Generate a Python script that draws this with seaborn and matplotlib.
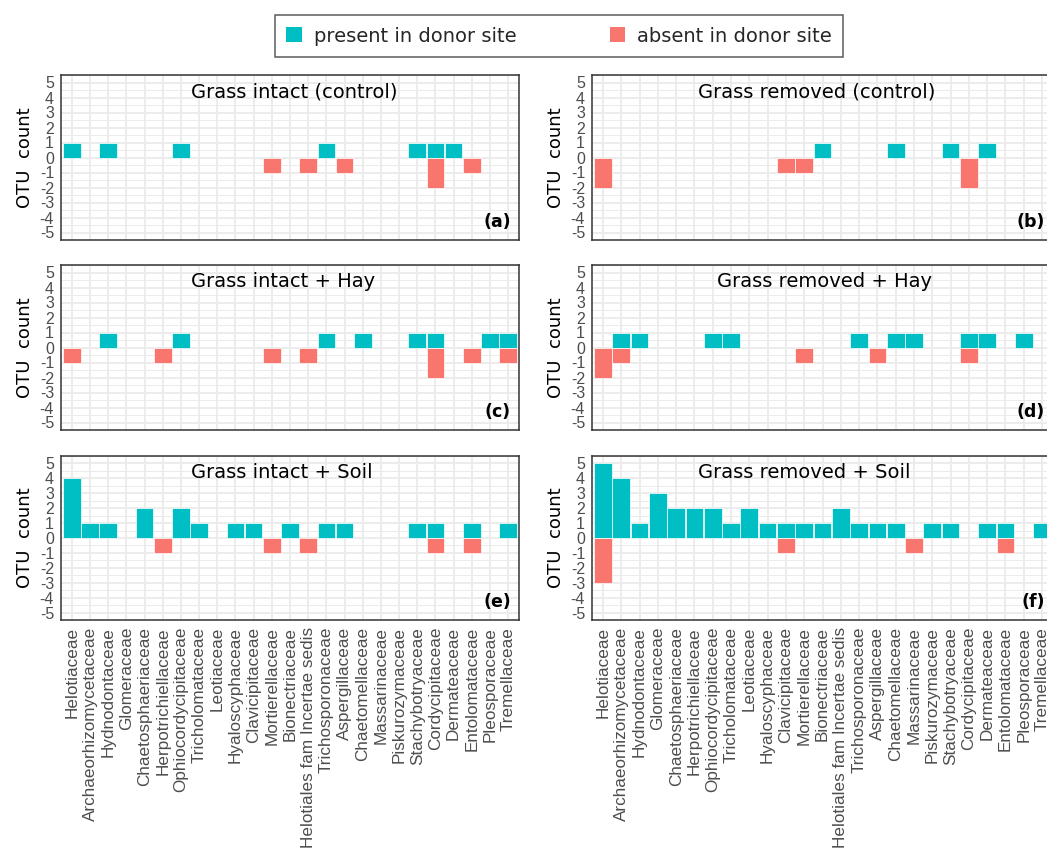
import matplotlib
matplotlib.use("Agg")
import matplotlib.pyplot as plt
from matplotlib.patches import Patch
from matplotlib.ticker import MultipleLocator
import pandas as pd
import seaborn as sns

# Fungal families on the shared x axis
families = [
    "Helotiaceae", "Archaeorhizomycetaceae", "Hydnodontaceae", "Glomeraceae",
    "Chaetosphaeriaceae", "Herpotrichiellaceae", "Ophiocordycipitaceae",
    "Tricholomataceae", "Leotiaceae", "Hyaloscyphaceae", "Clavicipitaceae",
    "Mortierellaceae", "Bionectriaceae", "Helotiales fam Incertae sedis",
    "Trichosporonaceae", "Aspergillaceae", "Chaetomellaceae", "Massarinaceae",
    "Piskurozymaceae", "Stachybotryaceae", "Cordycipitaceae", "Dermateaceae",
    "Entolomataceae", "Pleosporaceae", "Tremellaceae",
]

panel_titles = [
    "Grass intact (control)", "Grass removed (control)",
    "Grass intact + Hay", "Grass removed + Hay",
    "Grass intact + Soil", "Grass removed + Soil",
]
panel_tags = ["(a)", "(b)", "(c)", "(d)", "(e)", "(f)"]

# OTU counts per family: present in donor site (positive) / absent (negative)
intact_control_present = [1, 0, 1, 0, 0, 0, 1, 0, 0, 0, 0, 0, 0, 0, 1, 0, 0, 0, 0, 1, 1, 1, 0, 0, 0]
intact_control_absent = [0, 0, 0, 0, 0, 0, 0, 0, 0, 0, 0, -1, 0, -1, 0, -1, 0, 0, 0, 0, -2, 0, -1, 0, 0]
removed_control_present = [0, 0, 0, 0, 0, 0, 0, 0, 0, 0, 0, 0, 1, 0, 0, 0, 1, 0, 0, 1, 0, 1, 0, 0, 0]
removed_control_absent = [-2, 0, 0, 0, 0, 0, 0, 0, 0, 0, -1, -1, 0, 0, 0, 0, 0, 0, 0, 0, -2, 0, 0, 0, 0]
intact_hay_present = [0, 0, 1, 0, 0, 0, 1, 0, 0, 0, 0, 0, 0, 0, 1, 0, 1, 0, 0, 1, 1, 0, 0, 1, 1]
intact_hay_absent = [-1, 0, 0, 0, 0, -1, 0, 0, 0, 0, 0, -1, 0, -1, 0, 0, 0, 0, 0, 0, -2, 0, -1, 0, -1]
removed_hay_present = [0, 1, 1, 0, 0, 0, 1, 1, 0, 0, 0, 0, 0, 0, 1, 0, 1, 1, 0, 0, 1, 1, 0, 1, 0]
removed_hay_absent = [-2, -1, 0, 0, 0, 0, 0, 0, 0, 0, 0, -1, 0, 0, 0, -1, 0, 0, 0, 0, -1, 0, 0, 0, 0]
intact_soil_present = [4, 1, 1, 0, 2, 0, 2, 1, 0, 1, 1, 0, 1, 0, 1, 1, 0, 0, 0, 1, 1, 0, 1, 0, 1]
intact_soil_absent = [0, 0, 0, 0, 0, -1, 0, 0, 0, 0, 0, -1, 0, -1, 0, 0, 0, 0, 0, 0, -1, 0, -1, 0, 0]
removed_soil_present = [5, 4, 1, 3, 2, 2, 2, 1, 2, 1, 1, 1, 1, 2, 1, 1, 1, 0, 1, 1, 0, 1, 1, 0, 1]
removed_soil_absent = [-3, 0, 0, 0, 0, 0, 0, 0, 0, 0, -1, 0, 0, 0, 0, 0, 0, -1, 0, 0, 0, 0, -1, 0, 0]

panel_data = [
    (intact_control_present, intact_control_absent),
    (removed_control_present, removed_control_absent),
    (intact_hay_present, intact_hay_absent),
    (removed_hay_present, removed_hay_absent),
    (intact_soil_present, intact_soil_absent),
    (removed_soil_present, removed_soil_absent),
]

PRESENT = "#00BFC4"
ABSENT = "#F8766D"
GRID = "#EBEBEB"
FRAME = "#333333"
TICKTEXT = "#4D4D4D"

sns.set_style("white")
plt.rcParams["font.family"] = ["DejaVu Sans"]
plt.rcParams["axes.unicode_minus"] = False

W, H = 1047, 851
fig = plt.figure(figsize=(W / 100, H / 100), dpi=100)

col_px = [(61, 519), (592, 1053)]
row_px = [(75, 240), (265, 430), (456, 620)]
title_x = [0.284, 0.230, 0.284, 0.271, 0.284, 0.230]

for i, ((present, absent), title, tag) in enumerate(zip(panel_data, panel_titles, panel_tags)):
    r, c = divmod(i, 2)
    x0, x1 = col_px[c]
    y0, y1 = row_px[r]
    ax = fig.add_axes([x0 / W, 1 - y1 / H, (x1 - x0) / W, (y1 - y0) / H])

    df = pd.DataFrame({
        "family": families * 2,
        "count": list(present) + list(absent),
        "status": ["present"] * len(families) + ["absent"] * len(families),
    })
    df = df[df["count"] != 0]

    sns.barplot(
        data=df, x="family", y="count", hue="status",
        order=families, hue_order=["present", "absent"],
        palette={"present": PRESENT, "absent": ABSENT}, saturation=1,
        dodge=False, width=0.97, edgecolor="white", linewidth=0.5,
        errorbar=None, legend=False, ax=ax,
    )

    ax.set_xlim(-0.6, len(families) - 0.4)
    ax.set_ylim(-5.5, 5.5)
    ax.set_yticks(range(-5, 6))
    ax.set_yticklabels([str(v) for v in range(-5, 6)])
    ax.yaxis.set_minor_locator(MultipleLocator(0.5))

    ax.set_axisbelow(True)
    ax.xaxis.grid(True, which="major", color=GRID, linewidth=1.3)
    ax.yaxis.grid(True, which="major", color=GRID, linewidth=1.3)
    ax.yaxis.grid(True, which="minor", color=GRID, linewidth=0.7)
    for s in ax.spines.values():
        s.set_color(FRAME)
        s.set_linewidth(1.1)
        s.set_visible(True)

    ax.tick_params(axis="both", which="major", direction="out", length=3.5,
                   width=1.1, color=FRAME, labelcolor=TICKTEXT, pad=1.5)
    ax.tick_params(axis="y", which="minor", length=0)
    ax.tick_params(axis="y", labelsize=11.5)
    for lab in ax.get_yticklabels():
        lab.set_fontfamily("Liberation Sans")

    ax.set_xlabel("")
    if r == 2:
        ax.set_xticks(range(len(families)))
        ax.set_xticklabels(families, rotation=90, fontsize=12.3,
                           fontfamily="Liberation Sans", color=TICKTEXT)
    else:
        ax.tick_params(axis="x", labelbottom=False)

    ax.set_ylabel("OTU  count", fontsize=13, color="black")
    ax.yaxis.set_label_coords(-0.058, 0.5)

    ax.text(title_x[i], 4.4, title, transform=ax.get_yaxis_transform(),
            ha="left", va="center", fontsize=14, color="black")
    ax.text(0.982, -4.3, tag, transform=ax.get_yaxis_transform(),
            ha="right", va="center", fontsize=12.5, fontweight="bold", color="black")

handles = [
    Patch(facecolor=PRESENT, edgecolor="none", label="present in donor site"),
    Patch(facecolor=ABSENT, edgecolor="none", label="absent in donor site"),
]
leg = fig.legend(
    handles=handles, loc="center", bbox_to_anchor=(559 / W, 1 - 36 / H),
    ncol=2, frameon=True, fancybox=False, edgecolor=FRAME, fontsize=14,
    handlelength=0.8, handleheight=0.8, handletextpad=0.6, columnspacing=4.8,
    borderpad=0.6, borderaxespad=0,
)
leg.get_frame().set_linewidth(1.1)

fig.savefig("out.png", dpi=100)
